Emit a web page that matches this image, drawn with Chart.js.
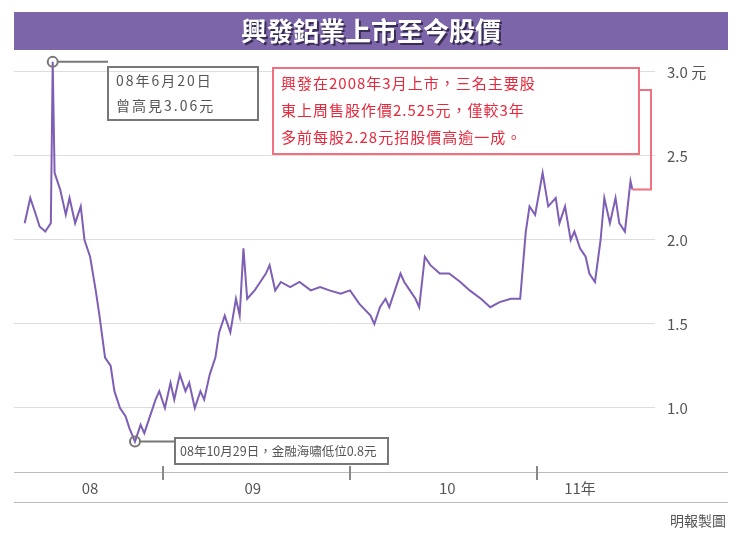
<!DOCTYPE html>
<html><head><meta charset="utf-8">
<script src="https://cdn.jsdelivr.net/npm/chart.js@4"></script>
<style>html,body{margin:0;padding:0;background:#fff}#w{width:742px;height:540px;position:relative}</style>
</head><body><div id="w"><canvas id="c"></canvas></div>
<script>
const dates=[2008.26,2008.29,2008.32,2008.34,2008.37,2008.40,2008.41,2008.42,2008.45,2008.48,2008.50,2008.53,2008.56,2008.58,2008.61,2008.64,2008.66,2008.69,2008.72,2008.74,2008.77,2008.80,2008.82,2008.85,2008.88,2008.90,2008.93,2008.96,2008.98,2009.01,2009.04,2009.06,2009.09,2009.12,2009.14,2009.17,2009.20,2009.22,2009.25,2009.28,2009.30,2009.33,2009.36,2009.39,2009.41,2009.43,2009.45,2009.49,2009.52,2009.55,2009.57,2009.60,2009.63,2009.68,2009.73,2009.79,2009.84,2009.89,2009.95,2010.00,2010.05,2010.11,2010.13,2010.16,2010.19,2010.21,2010.24,2010.27,2010.29,2010.32,2010.35,2010.37,2010.40,2010.43,2010.48,2010.53,2010.59,2010.64,2010.70,2010.75,2010.80,2010.86,2010.91,2010.94,2010.96,2010.99,2011.03,2011.06,2011.10,2011.12,2011.15,2011.18,2011.20,2011.23,2011.26,2011.28,2011.31,2011.34,2011.36,2011.39,2011.42,2011.44,2011.47,2011.50,2011.51];
const prices=[2.1,2.25,2.15,2.08,2.05,2.1,3.06,2.4,2.3,2.15,2.25,2.1,2.2,2.0,1.9,1.7,1.55,1.3,1.25,1.1,1.0,0.95,0.88,0.8,0.9,0.85,0.95,1.05,1.1,1.0,1.15,1.05,1.2,1.1,1.15,1.0,1.1,1.05,1.2,1.3,1.45,1.55,1.45,1.65,1.55,1.95,1.65,1.7,1.75,1.8,1.85,1.7,1.75,1.72,1.75,1.7,1.72,1.7,1.68,1.7,1.62,1.55,1.5,1.6,1.65,1.6,1.7,1.8,1.75,1.7,1.65,1.6,1.9,1.85,1.8,1.8,1.75,1.7,1.65,1.6,1.63,1.65,1.65,2.05,2.2,2.15,2.4,2.2,2.25,2.1,2.2,2.0,2.05,1.95,1.9,1.8,1.75,2.0,2.25,2.1,2.25,2.1,2.05,2.35,2.3];
const yTicks=[1.0,1.5,2.0,2.5,3.0];
const yearLabels=["08","09","10","11年"];
const yearLabelPos=[2008.61,2009.48,2010.52,2011.23];
const yearBounds=[2009,2010,2011];
const title="興發鋁業上市至今股價";
const notePeak=["08年6月20日","曾高見3.06元"];
const noteLow="08年10月29日，金融海嘯低位0.8元";
const noteRed=["興發在2008年3月上市，三名主要股","東上周售股作價2.525元，僅較3年","多前每股2.28元招股價高逾一成。"];
const credit="明報製圖";
const F='"Noto Sans CJK TC","Noto Sans CJK SC",sans-serif';
const deco={id:'deco',
 beforeDraw(ch){const c=ch.ctx;c.save();
  c.fillStyle='#7c66a9';c.fillRect(14,12,714,38);
  c.font='bold 26px '+F;c.textAlign='center';c.textBaseline='middle';
  c.fillStyle='#3a2d55';c.fillText(title,373,33);c.fillStyle='#fff';c.fillText(title,371,31);
  c.restore();},
 afterDraw(ch){const c=ch.ctx,x=ch.scales.x,y=ch.scales.y,a=ch.chartArea;c.save();
  c.strokeStyle='#bbb';c.lineWidth=1;
  c.beginPath();c.moveTo(14,a.bottom+0.5);c.lineTo(728,a.bottom+0.5);c.moveTo(14,502.5);c.lineTo(728,502.5);c.stroke();
  c.strokeStyle='#888';c.lineWidth=2;
  yearBounds.forEach(v=>{const px=x.getPixelForValue(v);c.beginPath();c.moveTo(px,a.bottom-6);c.lineTo(px,a.bottom+8);c.stroke();});
  c.fillStyle='#555';c.font='15px '+F;c.textAlign='center';c.textBaseline='middle';
  yearLabels.forEach((l,i)=>c.fillText(l,x.getPixelForValue(yearLabelPos[i]),488));
  c.textAlign='right';c.font='14px '+F;c.fillText(credit,726,521);
  const px=x.getPixelForValue(dates[6]),py=y.getPixelForValue(prices[6]);
  c.strokeStyle='#777';c.lineWidth=2;c.beginPath();c.arc(px,py,5,0,7);c.stroke();
  c.beginPath();c.moveTo(px+5,py);c.lineTo(108,py);c.stroke();
  c.strokeRect(108,67,150,53);
  c.fillStyle='#555';c.font='14px '+F;c.textAlign='left';c.letterSpacing='2px';
  c.fillText(notePeak[0],116,81);c.fillText(notePeak[1],116,106);
  const lx=x.getPixelForValue(dates[23]),ly=y.getPixelForValue(prices[23]);
  c.beginPath();c.arc(lx,ly,5,0,7);c.stroke();
  c.beginPath();c.moveTo(lx+5,ly);c.lineTo(175,ly);c.stroke();
  c.fillStyle='#fff';c.fillRect(175,438,213,26);c.strokeRect(175,438,213,26);
  c.fillStyle='#555';c.letterSpacing='0px';c.font='12.5px '+F;c.fillText(noteLow,180,451);
  const ex=x.getPixelForValue(dates[dates.length-1]),ey=y.getPixelForValue(prices[prices.length-1]);
  c.strokeStyle='#f07080';c.lineWidth=2;
  c.beginPath();c.moveTo(640,90);c.lineTo(651,90);c.lineTo(651,ey);c.lineTo(ex,ey);c.stroke();
  c.fillStyle='#fff';c.fillRect(273,68,366,86);c.strokeRect(273,68,366,86);
  c.fillStyle='#e8283c';c.font='15px '+F;c.letterSpacing='1px';
  noteRed.forEach((t,i)=>c.fillText(t,281,83+i*27));
  c.restore();}
};
new Chart(document.getElementById('c'),{type:'line',
 data:{datasets:[{data:dates.map((d,i)=>({x:d,y:prices[i]})),borderColor:'#7e5fb5',borderWidth:2,pointRadius:0,tension:0}]},
 options:{responsive:true,maintainAspectRatio:false,animation:false,
  layout:{padding:{left:14,right:0,top:57,bottom:68}},
  plugins:{legend:{display:false},tooltip:{enabled:false}},
  scales:{
   x:{type:'linear',min:2008.203,max:2011.631,display:false},
   y:{position:'right',min:0.619,max:3.089,border:{display:false},
    afterBuildTicks(s){s.ticks=yTicks.map(v=>({value:v}));},
    afterFit(s){s.width=87;},
    grid:{color:'#ddd',drawTicks:false},
    ticks:{color:'#555',padding:12,font:{size:15,family:F},callback:v=>v===3?'3.0 元':v.toFixed(1)}}
  }},
 plugins:[deco]});
</script></body></html>
